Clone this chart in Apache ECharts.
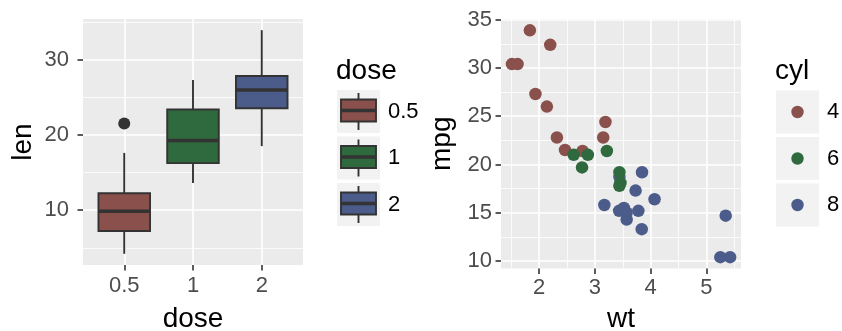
<!DOCTYPE html>
<html>
<head>
<meta charset="utf-8">
<script src="https://cdn.jsdelivr.net/npm/echarts@6/dist/echarts.min.js"></script>
<style>
html,body{margin:0;padding:0;background:#fff;}
#chart{width:842px;height:331px;}
</style>
</head>
<body>
<div id="chart"></div>
<script>
// ---- data: ToothGrowth boxplot (len by dose) ----
const doseLevels = ['0.5', '1', '2'];
const lenMin = [4.2, 13.6, 18.5];
const lenQ1 = [7.225, 16.25, 23.525];
const lenMedian = [9.85, 19.25, 25.95];
const lenQ3 = [12.25, 23.375, 27.825];
const lenMax = [17.6, 27.3, 33.9];
const outlierDoseIndex = [0];
const outlierLen = [21.5];
const doseColors = ['#8A504C', '#2F6A3E', '#4B5B8A'];

// ---- data: mtcars scatter (mpg vs wt by cyl) ----
const cylLevels = ['4', '6', '8'];
const wtCyl4 = [2.320, 3.190, 3.150, 2.200, 1.615, 1.835, 2.465, 1.935, 2.140, 1.513, 2.780];
const mpgCyl4 = [22.8, 24.4, 22.8, 32.4, 30.4, 33.9, 21.5, 27.3, 26.0, 30.4, 21.4];
const wtCyl6 = [2.620, 2.875, 3.215, 3.460, 3.440, 3.440, 2.770];
const mpgCyl6 = [21.0, 21.0, 21.4, 18.1, 19.2, 17.8, 19.7];
const wtCyl8 = [3.440, 3.570, 4.070, 3.730, 3.780, 5.250, 5.424, 5.345, 3.520, 3.435, 3.840, 3.845, 3.170, 3.570];
const mpgCyl8 = [18.7, 14.3, 16.4, 17.3, 15.2, 10.4, 10.4, 14.7, 15.5, 15.2, 13.3, 19.2, 15.8, 15.0];
const cylColors = ['#8A504C', '#2F6A3E', '#4B5B8A'];

// ---- tick labels / breaks ----
const lenMajorTicks = [10, 20, 30];
const lenMinorTicks = [5, 15, 25, 35];
const wtMajorTicks = [2, 3, 4, 5];
const wtMinorTicks = [1.5, 2.5, 3.5, 4.5, 5.5];
const mpgMajorTicks = [10, 15, 20, 25, 30, 35];
const mpgMinorTicks = [12.5, 17.5, 22.5, 27.5, 32.5];

const FONT = 'Liberation Sans, Helvetica, Arial, sans-serif';
const TICK_COL = '#4D4D4D';
const DARK = '#333333';
const TICK_STYLE = {show: true, length: 5.5, lineStyle: {color: DARK, width: 1.6}};

function majorAxis(base) {
  return Object.assign({
    type: 'value',
    axisLine: {show: false},
    splitLine: {show: true, lineStyle: {color: '#FFFFFF', width: 1.6}},
    nameTextStyle: {color: '#000', fontSize: 28, fontFamily: FONT},
    nameLocation: 'middle'
  }, base);
}
function minorAxis(base, ticks) {
  return Object.assign({
    type: 'value',
    axisLine: {show: false},
    axisTick: {show: false, customValues: ticks},
    axisLabel: {show: false},
    splitLine: {show: true, lineStyle: {color: '#FFFFFF', width: 0.8}}
  }, base);
}
function ticks(values) { return Object.assign({}, TICK_STYLE, {customValues: values}); }
function labels(values, margin, formatter) {
  const l = {color: TICK_COL, fontSize: 22, fontFamily: FONT, margin: margin, customValues: values};
  if (formatter) l.formatter = formatter;
  return l;
}

const boxData = doseLevels.map((d, i) => [i + 1, lenMin[i], lenQ1[i], lenMedian[i], lenQ3[i], lenMax[i]]);
const outlierData = outlierDoseIndex.map((d, i) => [d + 1, outlierLen[i]]);
const dosePositions = doseLevels.map((d, i) => i + 1);

function zip(xs, ys) { return xs.map((x, i) => [x, ys[i]]); }

const option = {
  animation: false,
  backgroundColor: '#FFFFFF',
  grid: [
    {left: 83, top: 19, width: 220, height: 246, show: true, backgroundColor: '#EBEBEB', borderWidth: 0,
      containLabel: false, outerBoundsMode: 'none'},
    {left: 501, top: 19, width: 240, height: 249.5, show: true, backgroundColor: '#EBEBEB', borderWidth: 0,
      containLabel: false, outerBoundsMode: 'none'}
  ],
  xAxis: [
    majorAxis({gridIndex: 0, min: 0.4, max: 3.6, name: 'dose', nameGap: 40,
      axisTick: ticks(dosePositions),
      axisLabel: labels(dosePositions, 10, v => doseLevels[Math.round(v) - 1])}),
    majorAxis({gridIndex: 1, min: 1.3175, max: 5.6196, name: 'wt', nameGap: 37,
      axisTick: ticks(wtMajorTicks),
      axisLabel: labels(wtMajorTicks, 8)}),
    minorAxis({gridIndex: 1, min: 1.3175, max: 5.6196}, wtMinorTicks)
  ],
  yAxis: [
    majorAxis({gridIndex: 0, min: 2.715, max: 35.385, name: 'len', nameGap: 46,
      axisTick: ticks(lenMajorTicks),
      axisLabel: labels(lenMajorTicks, 14)}),
    minorAxis({gridIndex: 0, min: 2.715, max: 35.385}, lenMinorTicks),
    majorAxis({gridIndex: 1, min: 9.225, max: 35.075, name: 'mpg', nameGap: 45,
      axisTick: ticks(mpgMajorTicks),
      axisLabel: labels(mpgMajorTicks, 9)}),
    minorAxis({gridIndex: 1, min: 9.225, max: 35.075}, mpgMinorTicks)
  ],
  series: [
    {
      type: 'custom', xAxisIndex: 0, yAxisIndex: 0, data: boxData, z: 3,
      renderItem: function (params, api) {
        const x = api.value(0);
        const pMin = api.coord([x, api.value(1)]);
        const pQ1 = api.coord([x, api.value(2)]);
        const pMed = api.coord([x, api.value(3)]);
        const pQ3 = api.coord([x, api.value(4)]);
        const pMax = api.coord([x, api.value(5)]);
        const hw = api.size([0.75, 0])[0] / 2;
        const cx = pMed[0];
        const col = doseColors[params.dataIndex];
        return {
          type: 'group',
          children: [
            {type: 'line', shape: {x1: cx, y1: pMax[1], x2: cx, y2: pQ3[1]}, style: {stroke: DARK, lineWidth: 1.9}},
            {type: 'line', shape: {x1: cx, y1: pMin[1], x2: cx, y2: pQ1[1]}, style: {stroke: DARK, lineWidth: 1.9}},
            {type: 'rect', shape: {x: cx - hw, y: pQ3[1], width: 2 * hw, height: pQ1[1] - pQ3[1]},
              style: {fill: col, stroke: DARK, lineWidth: 1.9}},
            {type: 'line', shape: {x1: cx - hw, y1: pMed[1], x2: cx + hw, y2: pMed[1]}, style: {stroke: DARK, lineWidth: 3.6}}
          ]
        };
      }
    },
    {
      type: 'scatter', xAxisIndex: 0, yAxisIndex: 0, data: outlierData, symbolSize: 12, z: 4,
      itemStyle: {color: DARK, opacity: 1}
    },
    {type: 'scatter', xAxisIndex: 1, yAxisIndex: 2, data: zip(wtCyl4, mpgCyl4), symbolSize: 12.5, z: 3,
      itemStyle: {color: cylColors[0], opacity: 1}},
    {type: 'scatter', xAxisIndex: 1, yAxisIndex: 2, data: zip(wtCyl6, mpgCyl6), symbolSize: 12.5, z: 5,
      itemStyle: {color: cylColors[1], opacity: 1}},
    {type: 'scatter', xAxisIndex: 1, yAxisIndex: 2, data: zip(wtCyl8, mpgCyl8), symbolSize: 12.5, z: 4,
      itemStyle: {color: cylColors[2], opacity: 1}}
  ],
  graphic: []
};

// ---- legends (drawn as graphics) ----
const g = [];
g.push({type: 'text', left: 336, top: 57, style: {text: 'dose', fontSize: 28, fontFamily: FONT, fill: '#000'}});
doseLevels.forEach((lvl, i) => {
  const y0 = 90 + i * 46.5;
  const x0 = 337;
  g.push({type: 'rect', shape: {x: x0, y: y0, width: 43, height: 43}, style: {fill: '#F2F2F2'}});
  g.push({type: 'line', shape: {x1: x0 + 21.5, y1: y0 + 3, x2: x0 + 21.5, y2: y0 + 40}, style: {stroke: DARK, lineWidth: 1.9}});
  g.push({type: 'rect', shape: {x: x0 + 4, y: y0 + 9.5, width: 35, height: 22}, style: {fill: doseColors[i], stroke: DARK, lineWidth: 1.9}});
  g.push({type: 'line', shape: {x1: x0 + 4, y1: y0 + 20.5, x2: x0 + 39, y2: y0 + 20.5}, style: {stroke: DARK, lineWidth: 3.6}});
  g.push({type: 'text', left: 388, top: y0 + 21.5 - 11, style: {text: lvl, fontSize: 22, fontFamily: FONT, fill: '#000'}});
});
g.push({type: 'text', left: 775, top: 57, style: {text: 'cyl', fontSize: 28, fontFamily: FONT, fill: '#000'}});
cylLevels.forEach((lvl, i) => {
  const y0 = 90.5 + i * 46.5;
  const x0 = 776;
  g.push({type: 'rect', shape: {x: x0, y: y0, width: 43, height: 43}, style: {fill: '#F2F2F2'}});
  g.push({type: 'circle', shape: {cx: x0 + 21.5, cy: y0 + 21.5, r: 6.2}, style: {fill: cylColors[i]}});
  g.push({type: 'text', left: 827, top: y0 + 21.5 - 11, style: {text: lvl, fontSize: 22, fontFamily: FONT, fill: '#000'}});
});
option.graphic = g;

const chart = echarts.init(document.getElementById('chart'), null, {renderer: 'canvas'});
chart.setOption(option);
</script>
</body>
</html>
